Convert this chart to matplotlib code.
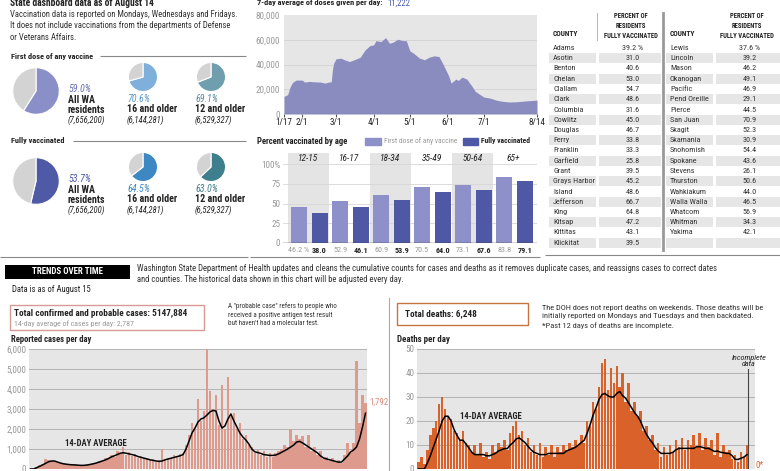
import logging
import matplotlib
matplotlib.use('Agg')
import matplotlib.pyplot as plt
from matplotlib.font_manager import FontProperties
from matplotlib.textpath import TextPath
from matplotlib.patches import Rectangle
import pandas as pd
import numpy as np

logging.getLogger('matplotlib.font_manager').setLevel(logging.ERROR)

# ---- data ----
dose_dates = ['1/17', '1/20', '1/22', '1/24', '1/27', '2/1', '2/3', '2/7', '2/11', '2/16',
              '2/20', '2/23', '2/25', '2/26', '2/27', '3/1', '3/5', '3/8', '3/12', '3/16',
              '3/21', '3/25', '3/29', '4/1', '4/3', '4/7', '4/11', '4/14', '4/17', '4/21',
              '4/25', '4/28', '5/1', '5/4', '5/9', '5/13', '5/17', '5/21', '5/25', '5/28',
              '6/2', '6/4', '6/8', '6/10', '6/13', '6/17', '6/21', '6/24', '7/1', '7/6',
              '7/12', '7/17', '7/22', '7/28', '8/4', '8/14']
dose_avg = [14200, 15600, 21700, 25500, 27400, 27400, 25800, 26300, 26000, 25800,
            25000, 25800, 26000, 35700, 41000, 44600, 45100, 43800, 42400, 43800,
            45900, 51800, 55300, 55800, 59300, 58500, 61700, 57200, 58000, 60400,
            59300, 59300, 51000, 49100, 45100, 43800, 45900, 47000, 46400, 41000,
            30900, 25000, 28200, 27100, 29800, 28200, 22800, 18300, 13700, 12900,
            11000, 10200, 9700, 9900, 10500, 11222]
dose_ticks = ['1/17', '2/1', '3/1', '4/1', '5/1', '6/1', '7/1', '8/14']

age_groups = ['12-15', '16-17', '18-34', '35-49', '50-64', '65+']
first_dose = [46.2, 52.9, 60.9, 70.5, 73.1, 83.8]
fully_vacc = [38.0, 46.1, 53.9, 64.0, 67.6, 79.1]

pie_groups = ['All WA\nresidents', '16 and older', '12 and older']
pie_pops = ['(7,656,200)', '(6,144,281)', '(6,529,327)']
pie_first = [59.0, 70.6, 69.1]
pie_full = [53.7, 64.5, 63.0]

left_counties = ['Adams', 'Asotin', 'Benton', 'Chelan', 'Clallam', 'Clark', 'Columbia', 'Cowlitz',
                 'Douglas', 'Ferry', 'Franklin', 'Garfield', 'Grant', 'Grays Harbor', 'Island',
                 'Jefferson', 'King', 'Kitsap', 'Kittitas', 'Klickitat']
left_pct = [39.2, 31.0, 40.6, 53.0, 54.7, 48.6, 31.6, 45.0, 46.7, 33.8, 33.3, 25.8, 39.5,
            45.2, 48.6, 66.7, 64.8, 47.2, 43.1, 39.5]
right_counties = ['Lewis', 'Lincoln', 'Mason', 'Okanogan', 'Pacific', 'Pend Oreille', 'Pierce',
                  'San Juan', 'Skagit', 'Skamania', 'Snohomish', 'Spokane', 'Stevens', 'Thurston',
                  'Wahkiakum', 'Walla Walla', 'Whatcom', 'Whitman', 'Yakima']
right_pct = [37.6, 39.2, 46.2, 49.1, 46.9, 29.1, 44.5, 70.9, 52.3, 30.9, 54.4, 43.6, 26.1,
             50.6, 44.0, 46.5, 56.9, 34.3, 42.1]

# daily cases / deaths, sampled about every 5 days from the start of the pandemic
cases_bars = [0, 20, 120, 200, 250, 520, 450, 380, 420, 330,
              280, 300, 230, 260, 200, 240, 180, 220, 170, 260,
              210, 320, 280, 420, 380, 560, 480, 700, 620, 900,
              760, 1100, 720, 850, 640, 760, 560, 640, 480, 560,
              430, 500, 360, 430, 1000, 520, 560, 480, 700, 580,
              760, 820, 1200, 1700, 2300, 2000, 3500, 2400, 2900, 6000,
              3900, 3000, 3700, 2200, 4200, 2000, 4600, 2600, 2800, 2000,
              2300, 1500, 1700, 1200, 1100, 800, 950, 700, 900, 620,
              800, 600, 780, 900, 1000, 1200, 1100, 2000, 1400, 1700,
              1500, 1650, 1100, 1700, 900, 1100, 700, 900, 500, 600,
              400, 560, 350, 450, 300, 700, 1300, 800, 1300, 5400,
              2300, 3700, 3300]
cases_avg = [0, 0, 60, 130, 200, 280, 360, 400, 400, 350,
             300, 260, 240, 220, 210, 200, 190, 180, 185, 200,
             230, 260, 300, 350, 400, 450, 520, 600, 660, 720,
             790, 810, 790, 750, 720, 680, 620, 580, 540, 500,
             460, 430, 400, 380, 400, 460, 500, 540, 580, 620,
             660, 720, 1000, 1400, 1800, 2050, 2350, 2500, 2560, 2700,
             2850, 2930, 2900, 2400, 2050, 2150, 2500, 2750, 2400, 2100,
             1800, 1600, 1450, 1250, 1000, 860, 820, 780, 720, 700,
             680, 680, 700, 760, 840, 920, 1000, 1100, 1200, 1350,
             1380, 1300, 1200, 1100, 1000, 900, 800, 650, 550, 500,
             460, 420, 380, 340, 350, 500, 650, 850, 950, 1100,
             1500, 2100, 2790]
deaths_bars = [3, 5, 2, 8, 14, 17, 20, 27, 30, 25,
               22, 21, 16, 15, 12, 16, 11, 10, 7, 10,
               6, 11, 5, 7, 4, 10, 7, 11, 9, 12,
               8, 15, 18, 20, 14, 16, 10, 13, 7, 10,
               6, 11, 5, 9, 6, 10, 5, 9, 7, 10,
               8, 11, 9, 12, 10, 14, 11, 20, 18, 28,
               25, 34, 44, 46, 33, 42, 36, 43, 34, 40,
               28, 36, 24, 28, 22, 24, 16, 18, 12, 14,
               8, 11, 5, 9, 6, 10, 7, 12, 9, 13,
               8, 12, 10, 14, 9, 15, 8, 13, 9, 12,
               6, 15, 5, 10, 7, 8, 4, 6, 3, 7,
               5, 10]
deaths_avg = [0, 0, 0, 2.5, 5.5, 9, 12.5, 16, 20, 22,
              22, 20, 16.5, 14, 12, 12, 10.5, 8.8, 7, 6,
              6, 6, 6, 5.5, 5.5, 6, 6.5, 7.5, 8, 8.5,
              8.5, 10, 11, 12.5, 13, 12, 11, 9.5, 8, 7,
              6.5, 6, 6, 6, 6.5, 6.5, 6.5, 6.5, 6.5, 6.5,
              7.5, 8, 8.5, 9, 10, 11, 12, 15, 18.5, 22.5,
              25.5, 29, 31, 31.5, 30.5, 30, 30, 31.5, 32.3, 30.5,
              29.5, 27.5, 25.5, 23.5, 22, 20, 17, 14.5, 12.5, 11,
              9, 7.5, 6.5, 6.5, 6.5, 6.5, 7, 8, 8.6, 8.6,
              8.6, 8.6, 8.6, 8.6, 9.3, 9.3, 9, 8.6, 8.6, 8,
              7.3, 7.5, 7, 6.8, 6.5, 6.5, 5.5, 4, 4, 4.5,
              5, 6]

# ---- fonts: pick the narrowest installed face, then scale sizes to the reference widths ----
sample = 'Vaccination data is reported on Mondays, Wednesdays and Fridays.'
candidates = [('Liberation Sans Narrow', 'normal'), ('Roboto Condensed', 'normal'),
              ('DejaVu Sans', 'condensed'), ('Roboto', 'condensed'), ('Liberation Sans', 'normal')]


def width_px(s, size, fam, stretch):
    tp = TextPath((0, 0), s, size=size, prop=FontProperties(family=fam, stretch=stretch))
    return tp.get_extents().width * 100 / 72


widths = [width_px(sample, 6.6, f, st) for f, st in candidates]
best = int(np.argmin(widths))
plt.rcParams['font.family'] = candidates[best][0]
plt.rcParams['font.stretch'] = candidates[best][1]
K = 229 / widths[best]


def fs(p):
    return p * K


W, H = 780, 471
DARK = '#222222'
GRAY = '#999999'
fig = plt.figure(figsize=(W / 100, H / 100), dpi=100)


def ax_at(x, y, w, h):
    # axes placed in pixel coords, y measured from the top
    return fig.add_axes([x / W, 1 - (y + h) / H, w / W, h / H])


# overlay for free text, lines and the table
ov = fig.add_axes([0, 0, 1, 1])
ov.set_xlim(0, W)
ov.set_ylim(H, 0)
ov.axis('off')
ov.set_zorder(10)


def txt(x, y, s, size, **kw):
    kw.setdefault('va', 'center')
    kw.setdefault('color', DARK)
    ov.text(x, y, s, fontsize=fs(size), **kw)


def hline(x0, x1, y, color='#888888', lw=0.8):
    ov.plot([x0, x1], [y, y], color=color, lw=lw, solid_capstyle='butt')


# ---- top-left: pies ----
txt(10, 3, 'State dashboard data as of August 14', 7.3, weight='bold')
txt(10, 26, 'Vaccination data is reported on Mondays, Wednesdays and Fridays.\n'
            'It does not include vaccinations from the departments of Defense\n'
            'or Veterans Affairs.', 6.6, linespacing=1.35, color='#333333')

first_cols = ['#8b8fc8', '#7fb0dc', '#6f9fae']
full_cols = ['#4f5aa6', '#3d88c2', '#3f7f8d']
num_cols_first = ['#6a6fb3', '#5b95c9', '#5a8a9a']
num_cols_full = ['#4f5aa6', '#3d88c2', '#3f7f8d']

sections = [('First dose of any vaccine', 56, 0, pie_first, first_cols, num_cols_first, 100),
            ('Fully vaccinated', 141, 5, pie_full, full_cols, num_cols_full, 73)]
for title, ty, shift, vals, cols, ncols, line_x in sections:
    txt(11, ty, title, 6.3, weight='bold')
    hline(line_x, 246, ty)
    dy = ty - 56 + shift
    pie_spec = [(36, 91, 24), (143, 77, 15), (211, 77, 15)]
    text_x = [68, 127, 195]
    text_y = [89, 99, 99]
    for k in range(3):
        cx, cy, r = pie_spec[k]
        pa = ax_at(cx - r, cy + dy - r, 2 * r, 2 * r)
        pa.pie([vals[k], 100 - vals[k]], colors=[cols[k], '#d3d3d3'], startangle=90,
               counterclock=False, wedgeprops=dict(linewidth=0.8, edgecolor='white'))
        pa.set_xlim(-1.03, 1.03)
        pa.set_ylim(-1.03, 1.03)
        pa.set_aspect('equal')
        ty0 = text_y[k] + dy
        txt(text_x[k], ty0, f'{vals[k]:.1f}%', 7.6, style='italic', color=ncols[k])
        if k == 0:
            txt(text_x[k], ty0 + 16, pie_groups[k], 7.6, weight='bold', linespacing=1.1)
            txt(text_x[k], ty0 + 31, pie_pops[k], 6.6, style='italic')
        else:
            txt(text_x[k], ty0 + 10, pie_groups[k], 7.6, weight='bold')
            txt(text_x[k], ty0 + 21, pie_pops[k], 6.6, style='italic')

hline(0, 248, 257)

# ---- doses per day ----
txt(257, 3, '7-day average of doses given per day:', 6.3, weight='bold')
txt(387, 3, '11,222', 6.6, color='#4a5ab0')
ax = ax_at(284, 15, 253, 99)
dd = pd.to_datetime(['2021/' + d for d in dose_dates])
ax.fill_between(dd, dose_avg, color='#8a8cc0', lw=0, zorder=2)
ax.set_facecolor('#e6e6e6')
ax.set_ylim(0, 80000)
ax.set_xlim(dd[0], dd[-1])
for yv in [20000, 40000, 60000]:
    ax.axhline(yv, color='#d2d2d2', lw=0.6, zorder=1)
ax.axhline(0, color='#555555', lw=0.8, zorder=3)
ax.set_yticks([0, 20000, 40000, 60000, 80000])
ax.set_yticklabels(['0', '20,000', '40,000', '60,000', '80,000'])
ax.set_xticks(pd.to_datetime(['2021/' + d for d in dose_ticks]))
ax.set_xticklabels(dose_ticks)
ax.tick_params(axis='y', length=0, labelsize=fs(7), labelcolor=GRAY, pad=3)
ax.tick_params(axis='x', length=2, labelsize=fs(7), labelcolor=DARK, color='#555555', pad=1)
for s in ax.spines.values():
    s.set_visible(False)

# ---- percent vaccinated by age ----
txt(257, 141, 'Percent vaccinated by age', 6.6, weight='bold')
ov.add_patch(Rectangle((365, 137.5), 16, 7, color='#8d90c9'))
txt(384, 141, 'First dose of any vaccine', 5.7, color=GRAY)
ov.add_patch(Rectangle((463, 137.5), 15, 7, color='#4f58a5'))
txt(481, 141, 'Fully vaccinated', 5.8, weight='bold')

ax = ax_at(283, 153, 254, 90)
x = np.arange(len(age_groups))
ax.set_xlim(-0.62, 5.57)
ax.set_ylim(0, 114)
for i in range(0, len(age_groups), 2):
    ax.axvspan(i - 0.5, i + 0.5, color='#e4e4e4', lw=0, zorder=0)
for yv in [25, 50, 75, 100]:
    ax.axhline(yv, color='#d6d6d6', lw=0.6, zorder=1)
ax.bar(x - 0.23, first_dose, 0.39, color='#8d90c9', zorder=2)
ax.bar(x + 0.27, fully_vacc, 0.39, color='#4f58a5', zorder=2)
ax.axhline(0, color='#333333', lw=1, zorder=3)
for i, g in enumerate(age_groups):
    ax.text(i, 107.5, g, ha='center', va='center', style='italic', fontsize=fs(7.2), color=DARK)
    lab = f'{first_dose[i]:.1f}' + (' %' if i == 0 else '')
    ax.text(i - 0.23, -5, lab, ha='center', va='top', fontsize=fs(6.2), color=GRAY, clip_on=False)
    ax.text(i + 0.27, -5, f'{fully_vacc[i]:.1f}', ha='center', va='top', fontsize=fs(6.2),
            weight='bold', color=DARK, clip_on=False)
ax.set_yticks([0, 25, 50, 75, 100])
ax.set_yticklabels(['0', '25', '50', '75', '100%'])
ax.set_xticks([])
ax.tick_params(axis='y', length=0, labelsize=fs(7), labelcolor=GRAY, pad=2)
ax.set_facecolor('none')
for s in ax.spines.values():
    s.set_visible(False)
hline(250, 540, 257)

# ---- county table ----
row_y0, row_dy = 48, 10.25
txt(553, 34, 'COUNTY', 5.6, weight='bold')
txt(670, 34, 'COUNTY', 5.6, weight='bold')
for cx in [631, 747]:
    txt(cx, 26, 'PERCENT OF\nRESIDENTS\nFULLY VACCINATED', 5.1, weight='bold',
        ha='center', linespacing=1.25)
ov.plot([597, 597], [13, 40], color='#aaaaaa', lw=0.6)
ov.plot([663, 663], [13, 250], color='#999999', lw=2)
for i in range(len(left_counties)):
    yy = row_y0 + i * row_dy
    if i % 2 == 1:
        ov.add_patch(Rectangle((549, yy - 4.8), 47, 9.6, color='#e6e6e6', lw=0))
        ov.add_patch(Rectangle((599, yy - 4.8), 62, 9.6, color='#e6e6e6', lw=0))
        ov.add_patch(Rectangle((666, yy - 4.8), 47, 9.6, color='#e6e6e6', lw=0))
        ov.add_patch(Rectangle((716, yy - 4.8), 64, 9.6, color='#e6e6e6', lw=0))
    txt(553, yy, left_counties[i], 6.2, color='#333333')
    txt(633, yy, f'{left_pct[i]:.1f}' + (' %' if i == 0 else ''), 6.2,
        ha='center', color='#333333')
for i in range(len(right_counties)):
    yy = row_y0 + i * row_dy
    txt(670, yy, right_counties[i], 6.2, color='#333333')
    txt(750, yy, f'{right_pct[i]:.1f}' + (' %' if i == 0 else ''), 6.2,
        ha='center', color='#333333')
hline(545, 780, 255)

# ---- trends over time ----
ov.add_patch(Rectangle((5, 265), 125, 14, color='black', lw=0))
txt(67.5, 272, 'TRENDS OVER TIME', 6.8, weight='bold', color='white', ha='center')
txt(137, 274, 'Washington State Department of Health updates and cleans the cumulative counts for '
              'cases and deaths as it removes duplicate cases, and reassigns cases to correct dates\n'
              'and counties. The historical data shown in this chart will be adjusted every day.',
    6.6, linespacing=1.4, color='#333333')
txt(12, 290, 'Data is as of August 15', 6.6, color=DARK)

ov.add_patch(Rectangle((10, 305), 194, 25, fill=False, edgecolor='#d99a95', lw=1))
txt(14, 313, 'Total confirmed and probable cases: 5147,884', 7.1, weight='bold')
txt(14, 324, '14-day average of cases per day: 2,787', 6.0, color=GRAY)
txt(228, 315, 'A "probable case" refers to people who\nreceived a positive antigen test result\n'
              'but haven\'t had a molecular test.', 5.4, linespacing=1.3, color='#333333')
txt(11, 339, 'Reported cases per day', 6.6, weight='bold')

ov.plot([389, 389], [298, 471], color='#aaaaaa', lw=0.8)
ov.add_patch(Rectangle((397, 303), 131, 22, fill=False, edgecolor='#c9733f', lw=1))
txt(405, 314, 'Total deaths: 6,248', 7.1, weight='bold')
txt(542, 317, 'The DOH does not report deaths on weekends. Those deaths will be\n'
              'initially reported on Mondays and Tuesdays and then backdated.\n'
              '*Past 12 days of deaths are incomplete.', 6.4, linespacing=1.45,
    color='#333333')
txt(397, 339, 'Deaths per day', 6.8, weight='bold')


def daily_chart(ax, bars, avg, color, ymax, step, labels, xmax):
    idx = np.arange(len(bars))
    ax.set_facecolor('#e6e6e6')
    ax.bar(idx, bars, width=0.85, color=color, lw=0, zorder=2)
    ax.plot(idx, avg, color='black', lw=1.1, zorder=3)
    ax.set_xlim(-0.5, xmax)
    ax.set_ylim(0, ymax)
    ticks = np.arange(0, ymax + step, step)
    ax.set_yticks(ticks)
    ax.set_yticklabels(labels)
    ax.grid(axis='y', color='#b3b3b3', lw=0.7, zorder=1)
    ax.set_axisbelow(True)
    ax.set_xticks([])
    ax.tick_params(axis='y', length=0, labelsize=fs(7), labelcolor=GRAY, pad=2)
    for s in ax.spines.values():
        s.set_visible(False)


ax = ax_at(29, 349, 338, 120)
daily_chart(ax, cases_bars, cases_avg, '#de9a8c', 6000, 1000,
            ['0', '1,000', '2,000', '3,000', '4,000', '5,000', '6,000'], len(cases_bars) - 0.5)
ax.text(11.5, 1250, '14-DAY AVERAGE', fontsize=fs(6.6), weight='bold', color=DARK, va='center',
        zorder=4)
txt(369, 402, '1,792', 6.8, color='#d98b80')

ax = ax_at(417, 349, 338, 120)
daily_chart(ax, deaths_bars, deaths_avg, '#d9622b', 50, 10,
            ['0', '10', '20', '30', '40', '50'], 113.7)
ax.text(14, 21.7, '14-DAY AVERAGE', fontsize=fs(6.6), weight='bold', color=DARK, va='center',
        zorder=4)
ax.axvline(len(deaths_bars) - 0.6, ymax=0.83, color='#444444', lw=0.8, zorder=4)
txt(749, 361, 'Incomplete\ndata', 6.2, style='italic', ha='center', linespacing=1.1)
txt(756, 465, '0*', 6.8, color='#d9622b')

fig.savefig('out.png', dpi=100)
